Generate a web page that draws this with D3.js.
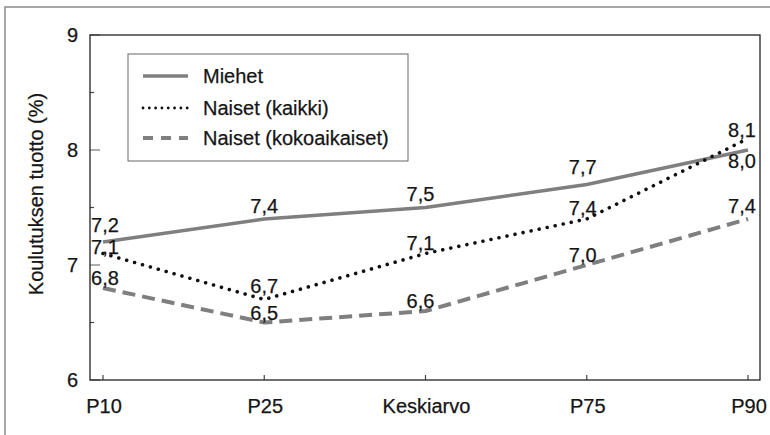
<!DOCTYPE html>
<html>
<head>
<meta charset="utf-8">
<script src="https://cdn.jsdelivr.net/npm/d3@7"></script>
<style>
  body { margin: 0; background: #fff; }
  svg { font-family: "Liberation Sans", Arial, Helvetica, sans-serif; }
  svg text { stroke: #151515; stroke-width: 0.25px; }
</style>
</head>
<body>
<svg id="chart" width="770" height="435"></svg>
<script>
// data
const categories = ['P10', 'P25', 'Keskiarvo', 'P75', 'P90'];
const miehet = [7.2, 7.4, 7.5, 7.7, 8.0];
const naisetKaikki = [7.1, 6.7, 7.1, 7.4, 8.1];
const naisetKokoaikaiset = [6.8, 6.5, 6.6, 7.0, 7.4];
const yTicks = [6, 7, 8, 9];
const yMinorTicks = [6.5, 7.5, 8.5];

const seriesNames = ['Miehet', 'Naiset (kaikki)', 'Naiset (kokoaikaiset)'];

const width = 770;
const height = 435;
const plot = { left: 90, top: 35, right: 760, bottom: 380 };
const fontSize = 20;
const textColor = '#151515';

const svg = d3.select('#chart');

const x = d3.scalePoint()
  .domain(categories)
  .range([103, 748]);

const y = d3.scaleLinear()
  .domain([6, 9])
  .range([plot.bottom, plot.top]);

// outer frame (open on right and bottom)
svg.append('path')
  .attr('d', `M5,${height} L5,7 L${width},7`)
  .attr('fill', 'none')
  .attr('stroke', '#8a8a8a')
  .attr('stroke-width', 1.5);

// y ticks (inside the plot)
const g = svg.append('g');
g.selectAll('line.major')
  .data(yTicks)
  .enter()
  .append('line')
  .attr('x1', plot.left)
  .attr('x2', plot.left + 10)
  .attr('y1', (d) => y(d))
  .attr('y2', (d) => y(d))
  .attr('stroke', '#777')
  .attr('stroke-width', 1.2);

g.selectAll('line.minor')
  .data(yMinorTicks)
  .enter()
  .append('line')
  .attr('x1', plot.left)
  .attr('x2', plot.left + 4)
  .attr('y1', (d) => y(d))
  .attr('y2', (d) => y(d))
  .attr('stroke', '#444')
  .attr('stroke-width', 1.2);

g.selectAll('text.ytick')
  .data(yTicks)
  .enter()
  .append('text')
  .attr('x', 78)
  .attr('y', (d) => y(d))
  .attr('dy', '0.35em')
  .attr('text-anchor', 'end')
  .attr('font-size', fontSize)
  .attr('fill', textColor)
  .text((d) => d);

// x ticks (pointing up from the bottom)
g.selectAll('line.xtick')
  .data(categories)
  .enter()
  .append('line')
  .attr('x1', (d) => x(d))
  .attr('x2', (d) => x(d))
  .attr('y1', plot.bottom)
  .attr('y2', plot.bottom - 5)
  .attr('stroke', '#444')
  .attr('stroke-width', 1.2);

g.selectAll('text.xtick')
  .data(categories)
  .enter()
  .append('text')
  .attr('x', (d) => x(d) + 1)
  .attr('y', 413)
  .attr('text-anchor', 'middle')
  .attr('font-size', fontSize)
  .attr('fill', textColor)
  .text((d) => d);

// axis title
svg.append('text')
  .attr('transform', 'translate(43,194) rotate(-90)')
  .attr('text-anchor', 'middle')
  .attr('font-size', fontSize)
  .attr('fill', textColor)
  .text('Koulutuksen tuotto (%)');

// plot box
svg.append('rect')
  .attr('x', plot.left)
  .attr('y', plot.top)
  .attr('width', plot.right - plot.left)
  .attr('height', plot.bottom - plot.top)
  .attr('fill', 'none')
  .attr('stroke', '#222')
  .attr('stroke-width', 1.3);

const styles = [
  { stroke: '#7f7f7f', width: 3.5, dash: null, cap: 'butt', legendDash: null, legendWidth: 3.5 },
  { stroke: '#111', width: 3.6, dash: '0.01 8.2', cap: 'round', legendDash: '0.01 6.3', legendWidth: 2.8 },
  { stroke: '#7f7f7f', width: 4, dash: '13 7', cap: 'butt', legendDash: '10 8', legendWidth: 4 }
];

const seriesValues = [miehet, naisetKaikki, naisetKokoaikaiset];

const line = d3.line()
  .x((d, i) => x(categories[i]))
  .y((d) => y(d));

seriesValues.forEach((vals, s) => {
  const st = styles[s];
  svg.append('path')
    .datum(vals)
    .attr('d', line)
    .attr('fill', 'none')
    .attr('stroke', st.stroke)
    .attr('stroke-width', st.width)
    .attr('stroke-linecap', st.cap)
    .attr('stroke-linejoin', 'round')
    .attr('stroke-dasharray', st.dash);
});

// value labels; small nudges so they clear the lines like the original
const labelDx = [2, 0, -5, -4, -6];
const labelDy = [
  [-10, -6, -7, -11, 18],
  [0, -7, -4, -4, -2],
  [-3, -3, -3, -3, -6]
];

seriesValues.forEach((vals, s) => {
  svg.append('g')
    .selectAll('text')
    .data(vals)
    .enter()
    .append('text')
    .attr('x', (d, i) => x(categories[i]) + labelDx[i])
    .attr('y', (d, i) => y(d) + labelDy[s][i])
    .attr('text-anchor', 'middle')
    .attr('font-size', fontSize)
    .attr('fill', textColor)
    .text((d) => d.toFixed(1).replace('.', ','));
});

// legend
const legend = svg.append('g');
legend.append('rect')
  .attr('x', 128)
  .attr('y', 54)
  .attr('width', 280)
  .attr('height', 107)
  .attr('fill', '#fff')
  .attr('stroke', '#666')
  .attr('stroke-width', 1);

const rowY = [76, 108, 138];
seriesNames.forEach((name, s) => {
  const st = styles[s];
  legend.append('line')
    .attr('x1', 143)
    .attr('x2', 188)
    .attr('y1', rowY[s])
    .attr('y2', rowY[s])
    .attr('stroke', st.stroke)
    .attr('stroke-width', st.legendWidth)
    .attr('stroke-linecap', st.cap)
    .attr('stroke-dasharray', st.legendDash);
  legend.append('text')
    .attr('x', 203)
    .attr('y', rowY[s])
    .attr('dy', '0.35em')
    .attr('font-size', fontSize)
    .attr('fill', textColor)
    .text(name);
});
</script>
</body>
</html>
